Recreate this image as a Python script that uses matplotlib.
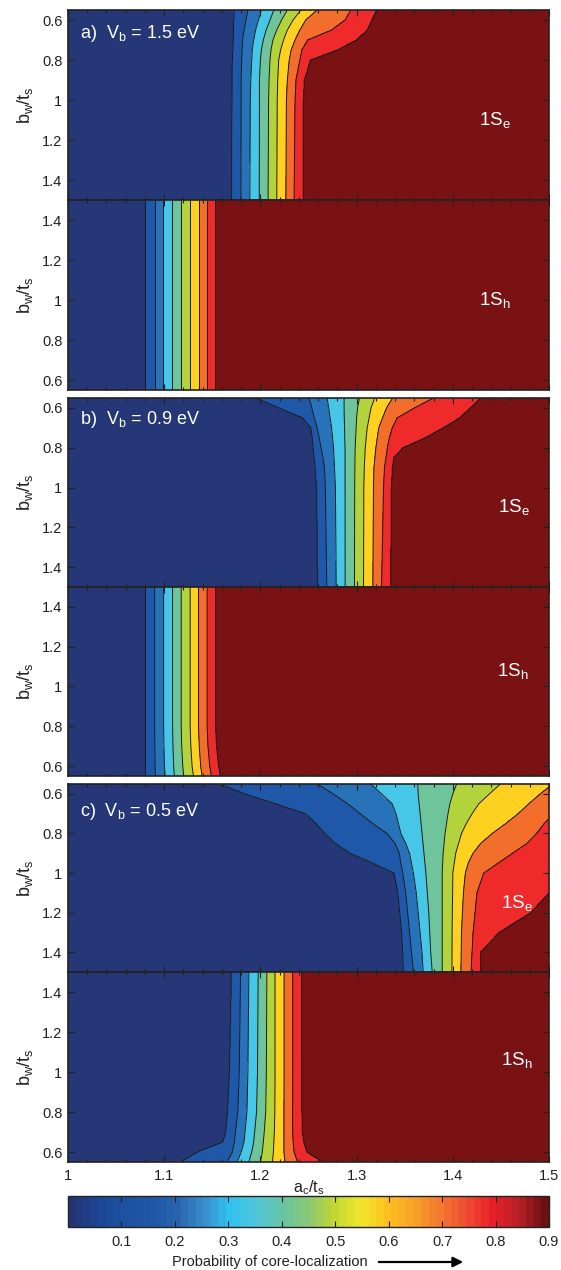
import numpy as np
import matplotlib
matplotlib.use("Agg")
import matplotlib.pyplot as plt
from matplotlib import ticker
from matplotlib.colors import LinearSegmentedColormap, Normalize
from matplotlib.cm import ScalarMappable
from matplotlib.patches import FancyArrowPatch

plt.rcParams['font.family'] = ['Liberation Sans', 'DejaVu Sans']
plt.rcParams['mathtext.fontset'] = 'custom'
plt.rcParams['mathtext.rm'] = 'Liberation Sans'
plt.rcParams['mathtext.it'] = 'Liberation Sans:italic'

# ---------------------------------------------------------------
# Contour levels (probability of core localization)
levels = [0.1, 0.2, 0.3, 0.4, 0.5, 0.6, 0.7, 0.8, 0.9]

# Each panel: rows of b_w/t_s and, for each level, the a_c/t_s position
# of that contour on every row.

# a) Vb = 1.5 eV, 1Se
a_e_bw = [0.55, 0.6, 0.65, 0.7, 0.75, 0.8, 0.9, 1.0, 1.5]
a_e_ac = [
    [1.173, 1.1725, 1.172, 1.172, 1.1715, 1.171, 1.1708, 1.1705, 1.1704],
    [1.187, 1.185, 1.183, 1.1815, 1.181, 1.1805, 1.180, 1.180, 1.1797],
    [1.201, 1.198, 1.195, 1.193, 1.1915, 1.191, 1.190, 1.1895, 1.189],
    [1.214, 1.210, 1.206, 1.203, 1.201, 1.200, 1.199, 1.199, 1.1988],
    [1.228, 1.222, 1.217, 1.213, 1.211, 1.210, 1.209, 1.2085, 1.208],
    [1.242, 1.234, 1.228, 1.224, 1.221, 1.219, 1.218, 1.2175, 1.217],
    [1.259, 1.247, 1.241, 1.236, 1.232, 1.230, 1.228, 1.227, 1.2265],
    [1.294, 1.288, 1.274, 1.249, 1.243, 1.241, 1.237, 1.236, 1.235],
    [1.321, 1.316, 1.311, 1.300, 1.280, 1.252, 1.2455, 1.2445, 1.2444],
]

# a) Vb = 1.5 eV, 1Sh
a_h_bw = [0.55, 1.5]
a_h_ac = [
    [1.0807, 1.0807],
    [1.0901, 1.0901],
    [1.0990, 1.0990],
    [1.1084, 1.1084],
    [1.1173, 1.1173],
    [1.1267, 1.1267],
    [1.1357, 1.1357],
    [1.1442, 1.1442],
    [1.1528, 1.1528],
]

# b) Vb = 0.9 eV, 1Se
b_e_bw = [0.55, 0.6, 0.65, 0.7, 0.75, 0.8, 0.85, 0.9, 1.0, 1.5]
b_e_ac = [
    [1.1954, 1.2197, 1.244, 1.2526, 1.254, 1.255, 1.256, 1.257, 1.2586, 1.2597],
    [1.2507, 1.2535, 1.256, 1.259, 1.261, 1.263, 1.265, 1.2665, 1.2675, 1.269],
    [1.2694, 1.271, 1.2725, 1.274, 1.275, 1.276, 1.2765, 1.277, 1.278, 1.2788],
    [1.287, 1.287, 1.2872, 1.2875, 1.2877, 1.288, 1.288, 1.288, 1.288, 1.2881],
    [1.303, 1.301, 1.300, 1.2995, 1.299, 1.2985, 1.2983, 1.2982, 1.298, 1.2978],
    [1.3188, 1.315, 1.313, 1.311, 1.310, 1.309, 1.3085, 1.308, 1.3075, 1.3072],
    [1.3374, 1.331, 1.327, 1.323, 1.3215, 1.320, 1.319, 1.318, 1.3175, 1.3169],
    [1.380, 1.360, 1.342, 1.337, 1.334, 1.332, 1.3305, 1.329, 1.328, 1.3259],
    [1.429, 1.418, 1.407, 1.390, 1.371, 1.348, 1.3385, 1.337, 1.336, 1.3352],
]

# b) Vb = 0.9 eV, 1Sh
b_h_bw = [0.55, 0.6, 0.7, 0.8, 1.5]
b_h_ac = [
    [1.0807, 1.0807, 1.0807, 1.0807, 1.0807],
    [1.0908, 1.0905, 1.0902, 1.0901, 1.0901],
    [1.1009, 1.1003, 1.0997, 1.0994, 1.0994],
    [1.1106, 1.1098, 1.1091, 1.1087, 1.1087],
    [1.1203, 1.1193, 1.1182, 1.1177, 1.1177],
    [1.1304, 1.1290, 1.1277, 1.1270, 1.1270],
    [1.1394, 1.1379, 1.1364, 1.1357, 1.1357],
    [1.1491, 1.1473, 1.1455, 1.1446, 1.1446],
    [1.1584, 1.1563, 1.1542, 1.1532, 1.1532],
]

# c) Vb = 0.5 eV, 1Se
c_e_bw = [0.55, 0.6, 0.65, 0.7, 0.75, 0.8, 0.85, 0.9, 0.95, 1.0, 1.1, 1.2, 1.3, 1.4, 1.5]
c_e_ac = [
    [1.158, 1.184, 1.216, 1.247, 1.258, 1.267, 1.278, 1.2934, 1.317, 1.339, 1.343, 1.345, 1.347, 1.348, 1.3487],
    [1.259, 1.2758, 1.2907, 1.3038, 1.3169, 1.3318, 1.340, 1.3445, 1.346, 1.348, 1.351, 1.353, 1.355, 1.357, 1.3591],
    [1.315, 1.326, 1.337, 1.341, 1.3435, 1.346, 1.351, 1.355, 1.357, 1.359, 1.362, 1.364, 1.366, 1.368, 1.3692],
    [1.3636, 1.364, 1.365, 1.366, 1.367, 1.368, 1.369, 1.370, 1.371, 1.372, 1.3735, 1.375, 1.376, 1.377, 1.3786],
    [1.404, 1.400, 1.397, 1.395, 1.3935, 1.392, 1.391, 1.390, 1.3895, 1.389, 1.389, 1.389, 1.389, 1.389, 1.389],
    [1.4495, 1.438, 1.427, 1.420, 1.414, 1.409, 1.406, 1.403, 1.4015, 1.400, 1.3998, 1.3995, 1.3993, 1.3992, 1.3991],
    [1.504, 1.491, 1.479, 1.468, 1.455, 1.441, 1.429, 1.421, 1.416, 1.413, 1.411, 1.410, 1.409, 1.4087, 1.4084],
    [1.535, 1.525, 1.515, 1.505, 1.495, 1.487, 1.477, 1.462, 1.447, 1.432, 1.425, 1.423, 1.421, 1.420, 1.4189],
    [1.62, 1.61, 1.60, 1.59, 1.58, 1.57, 1.56, 1.55, 1.54, 1.525, 1.50, 1.481, 1.448, 1.429, 1.429],
]

# c) Vb = 0.5 eV, 1Sh
c_h_bw = [0.55, 0.6, 0.65, 0.7, 0.8, 1.0, 1.5]
c_h_ac = [
    [1.117, 1.135, 1.161, 1.164, 1.166, 1.168, 1.170],
    [1.1655, 1.171, 1.173, 1.174, 1.1765, 1.178, 1.1794],
    [1.176, 1.180, 1.183, 1.184, 1.186, 1.187, 1.188],
    [1.188, 1.191, 1.193, 1.194, 1.196, 1.197, 1.1977],
    [1.200, 1.202, 1.203, 1.204, 1.2055, 1.2062, 1.2067],
    [1.2125, 1.2135, 1.2140, 1.2145, 1.215, 1.2152, 1.2152],
    [1.2255, 1.2245, 1.2245, 1.2245, 1.2245, 1.2246, 1.2246],
    [1.2385, 1.235, 1.234, 1.2335, 1.2335, 1.2336, 1.2336],
    [1.2646, 1.248, 1.245, 1.2435, 1.243, 1.2428, 1.2425],
]

panel_titles = ['a)  $\\mathregular{V_b}$ = 1.5 eV', None,
                'b)  $\\mathregular{V_b}$ = 0.9 eV', None,
                'c)  $\\mathregular{V_b}$ = 0.5 eV', None]
state_labels = ['$\\mathregular{1S_e}$', '$\\mathregular{1S_h}$'] * 3
state_pos = [(1.444, 1.10), (1.444, 1.0), (1.463, 1.10),
             (1.462, 1.08), (1.467, 1.15), (1.466, 1.06)]
title_y = [0.875, None, 0.885, None, 0.855, None]

# Filled band colours (below 0.1 ... above 0.9)
band_colors = ['#253776', '#1f58a8', '#2772b9', '#46c7e8', '#6ec59c',
               '#b2d33c', '#fdd120', '#f36e2b', '#ee2a2b', '#7a1214']

# Colour bar palette
cbar_vals = [0.0, 0.05, 0.10, 0.15, 0.20, 0.25, 0.30, 0.35, 0.40, 0.45,
             0.50, 0.55, 0.60, 0.65, 0.70, 0.75, 0.80, 0.85, 0.90]
cbar_cols = ['#243473', '#1c4595', '#1d52a0', '#1f57a5', '#2763ad', '#3b8bcb',
             '#30c2ef', '#50c6dc', '#67c5a5', '#8ac874', '#c2d832', '#f1e62b',
             '#fcc120', '#f8a128', '#f3792e', '#ef4d33', '#e81f28', '#b72027',
             '#6b1013']

panels = [(a_e_bw, a_e_ac, True), (a_h_bw, a_h_ac, False),
          (b_e_bw, b_e_ac, True), (b_h_bw, b_h_ac, False),
          (c_e_bw, c_e_ac, True), (c_h_bw, c_h_ac, False)]

# pixel extents (top, bottom) of each panel on a 1270 px tall canvas
extents = [(10, 200), (200, 390), (398, 587), (587, 776), (784, 972), (972, 1162)]

FW, FH = 561, 1270
fig = plt.figure(figsize=(FW / 100, FH / 100), dpi=100)
LEFT, WIDTH = 68 / FW, 481 / FW
ink = '#231f20'

# sampling grid for the contour fields
xg = np.linspace(1.0, 1.5, 1001)
yg = np.linspace(0.55, 1.5, 381)


def field(bw, ac):
    """Probability field whose iso-lines pass through the listed positions."""
    ac = np.asarray(ac)
    pos = np.array([np.interp(yg, bw, row) for row in ac])  # (levels, yg)
    Z = np.empty((yg.size, xg.size))
    fp = np.concatenate([[0.0], levels, [1.0]])
    for j in range(yg.size):
        xp = np.concatenate([[0.9], pos[:, j], [1.8]])
        Z[j] = np.interp(xg, xp, fp)
    return Z


for i, ((bw, ac, inverted), (top, bot)) in enumerate(zip(panels, extents)):
    ax = fig.add_axes([LEFT, 1 - bot / FH, WIDTH, (bot - top) / FH])
    Z = field(bw, ac)
    X, Y = np.meshgrid(xg, yg)
    ax.contourf(X, Y, Z, levels=[-1.0] + levels + [2.0], colors=band_colors)
    ax.contour(X, Y, Z, levels=levels, colors='#1a1a1a', linewidths=0.7)

    ax.set_xlim(1.0, 1.5)
    if inverted:
        ax.set_ylim(1.5, 0.55)
    else:
        ax.set_ylim(0.55, 1.5)

    ax.xaxis.set_major_locator(ticker.MultipleLocator(0.1))
    ax.xaxis.set_minor_locator(ticker.MultipleLocator(0.02))
    ax.yaxis.set_major_locator(ticker.FixedLocator([0.6, 0.8, 1.0, 1.2, 1.4]))
    ax.yaxis.set_major_formatter(ticker.FuncFormatter(lambda v, p: f'{v:g}'))
    ax.xaxis.set_major_formatter(ticker.FuncFormatter(lambda v, p: f'{v:g}'))
    ax.tick_params(which='both', direction='in', top=True, right=True,
                   colors=ink, labelsize=10.5, width=0.8)
    ax.tick_params(which='major', length=4, pad=4)
    ax.tick_params(which='minor', length=2)
    if i < 5:
        ax.tick_params(labelbottom=False)
    else:
        ax.tick_params(axis='x', which='major', pad=5)
        ax.set_xlabel('$\\mathregular{a_c/t_s}$', fontsize=11.5, color=ink)
        ax.xaxis.set_label_coords(0.5, -0.088)
    ax.set_ylabel('$\\mathregular{b_w/t_s}$', fontsize=13, color=ink,
                  labelpad=5)
    for s in ax.spines.values():
        s.set_linewidth(1.2)
        s.set_color('#222222')

    if panel_titles[i]:
        ax.text(0.025, title_y[i], panel_titles[i], transform=ax.transAxes,
                color='white', fontsize=13, ha='left', va='center')
    sx, sy = state_pos[i]
    ax.text(sx, sy, state_labels[i], color='white', fontsize=13.5,
            ha='center', va='center')

# Colour bar
cmap = LinearSegmentedColormap.from_list(
    'corebar', list(zip(np.array(cbar_vals) / 0.9, cbar_cols)), N=64)
cax = fig.add_axes([LEFT, 1 - 1227 / FH, WIDTH, 31 / FH])
sm = ScalarMappable(norm=Normalize(0.0, 0.9), cmap=cmap)
cb = fig.colorbar(sm, cax=cax, orientation='horizontal',
                  ticks=[0.1, 0.2, 0.3, 0.4, 0.5, 0.6, 0.7, 0.8, 0.9])
cb.ax.xaxis.set_major_formatter(ticker.FuncFormatter(lambda v, p: f'{v:g}'))
cb.ax.tick_params(direction='in', top=True, bottom=True, length=4, width=0.8,
                  colors=ink, labelsize=10.5, pad=6)
cb.outline.set_linewidth(1.0)
cb.outline.set_edgecolor('#222222')

fig.text(270 / FW, 1 - 1262 / FH, 'Probability of core-localization',
         fontsize=10.5, color=ink, ha='center', va='center')
fig.add_artist(FancyArrowPatch(
    (376 / FW, 1 - 1262 / FH), (466 / FW, 1 - 1262 / FH),
    transform=fig.transFigure, arrowstyle='-|>,head_length=6,head_width=3',
    color='black', linewidth=1.6, mutation_scale=1))

fig.savefig('out.png', dpi=100)
